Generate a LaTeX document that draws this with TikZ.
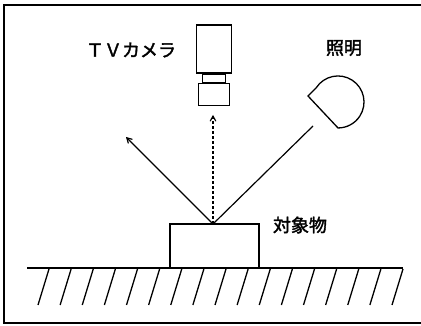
\documentclass[tikz,border=0pt]{standalone}
\usepackage{fontspec}
\newfontfamily\jpfont[FakeBold=2]{Noto Sans CJK JP}
\usetikzlibrary{arrows}
\usetikzlibrary{positioning}

\begin{document}
\begin{tikzpicture}[x=1pt,y=-1pt,>=angle 60,line width=1.3pt,
    part/.style={draw,rectangle,inner sep=0pt,line width=1.3pt},
    caption/.style={font=\jpfont\fontsize{18}{18}\selectfont,inner sep=0pt}]

      \useasboundingbox (0,0) rectangle (421,326);

      % frame, open on the right
      \draw[line width=1.6pt] (421,5) -- (4,5) -- (4,323) -- (421,323);

      % camera
      \node (body) [part,minimum width=35pt,minimum height=48pt] at (214,49) {};
      \node (neck) [part,minimum width=23pt,minimum height=8pt,below=0pt of body] {};
      \node (lens) [part,minimum width=31pt,minimum height=22pt,below=0pt of neck] {};

      % object on the floor
      \node (object) [part,minimum width=89pt,minimum height=44pt] at (214.5,246) {};

      \node (camlabel) [caption] at (131,50) {ＴＶカメラ};
      \node (lamplabel) [caption] at (344,48) {照明};
      \node (objlabel) [caption] at (300,225) {対象物};

      % lamp
      \draw (316.2,87.8) arc[start angle=147,end angle=-90,radius=26pt]
            -- (308,96) -- cycle;

      \coordinate (lampray) at (313,126);
      \coordinate (hit) at (213,224);
      \coordinate (reflect) at (126,137);
      \coordinate (view) at (213,115);

      \path[line width=1.2pt]
        (lampray) edge (hit)
        (hit) edge [->] (reflect)
              edge [->,dash pattern=on 3pt off 2pt] (view);

      % floor
      \draw (27,268) -- (403,268);
      \foreach \i in {0,...,16}
        \draw (49+22.125*\i,269) -- ++(-11,36);

\end{tikzpicture}
\end{document}
